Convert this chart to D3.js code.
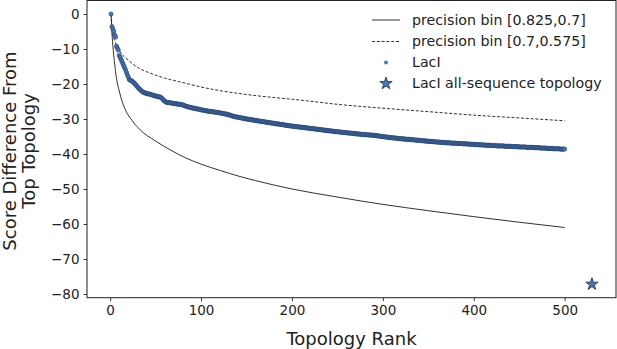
<!DOCTYPE html>
<html><head><meta charset="utf-8">
<script src="https://cdn.jsdelivr.net/npm/d3@7"></script>
<style>html,body{margin:0;padding:0;background:#fff;}svg{display:block;font-family:"DejaVu Sans",sans-serif;}</style>
</head><body>
<svg id="c" width="617" height="349"></svg>
<script>
// Solid line: precision bin [0.825,0.7]
const binHighRank = [1,2,3,4,5,7,10,13,17,24,33,50,68,83,100,121,141,160,200,250,300,350,400,450,500];
const binHighVal  = [0,-5.5,-9,-12,-14.3,-18.4,-22,-24.8,-27.5,-30.4,-33.1,-36.3,-39.1,-41.1,-42.9,-44.7,-46.3,-47.6,-50,-52.3,-54.4,-56.2,-57.9,-59.5,-61];
// Dashed line: precision bin [0.7,0.575]
const binLowRank = [1,2,3.5,5,8,11,20,30,44,60,80,99,121,150,209,250,319,355,400,450,500];
const binLowVal  = [0,-3,-6.5,-7.5,-9.5,-10.8,-13.2,-15.2,-16.9,-18.3,-19.6,-20.8,-21.9,-23,-24.6,-25.8,-27.3,-28,-28.9,-29.7,-30.5];
// LacI score differences, ranks 1..500
const laciVal = [
0,-3.6,-4.3,-5.0,-6.0,-6.6,-9.2,-9.8,-10.3,-11.8,
-12.4,-13.0,-13.6,-14.2,-14.8,-15.4,-16.0,-16.7,-17.4,-18.0,
-18.7,-18.9,-19.0,-19.2,-19.4,-19.6,-19.9,-20.2,-20.5,-20.8,
-21.1,-21.4,-21.6,-21.9,-22.1,-22.3,-22.4,-22.5,-22.6,-22.7,
-22.8,-22.8,-22.9,-22.9,-23.0,-23.1,-23.2,-23.3,-23.4,-23.4,
-23.5,-23.6,-23.6,-23.7,-23.7,-23.9,-24.1,-24.4,-24.7,-24.9,
-25.1,-25.2,-25.3,-25.3,-25.3,-25.4,-25.4,-25.5,-25.5,-25.6,
-25.6,-25.6,-25.7,-25.7,-25.8,-25.8,-25.8,-25.9,-25.9,-26.0,
-26.1,-26.2,-26.3,-26.4,-26.5,-26.5,-26.6,-26.7,-26.7,-26.8,
-26.9,-26.9,-27.0,-27.0,-27.1,-27.1,-27.2,-27.2,-27.3,-27.4,
-27.4,-27.5,-27.5,-27.6,-27.6,-27.7,-27.7,-27.8,-27.8,-27.8,
-27.9,-27.9,-27.9,-28.0,-28.0,-28.1,-28.1,-28.1,-28.2,-28.2,
-28.3,-28.3,-28.4,-28.4,-28.5,-28.5,-28.6,-28.6,-28.7,-28.8,
-28.8,-28.9,-29.0,-29.1,-29.2,-29.3,-29.3,-29.4,-29.4,-29.5,
-29.5,-29.6,-29.6,-29.7,-29.7,-29.8,-29.8,-29.9,-29.9,-30.0,
-30.0,-30.1,-30.1,-30.2,-30.2,-30.2,-30.3,-30.3,-30.4,-30.4,
-30.5,-30.5,-30.5,-30.6,-30.6,-30.7,-30.7,-30.7,-30.8,-30.8,
-30.9,-30.9,-31.0,-31.0,-31.0,-31.1,-31.1,-31.2,-31.2,-31.2,
-31.3,-31.3,-31.4,-31.4,-31.4,-31.5,-31.5,-31.6,-31.6,-31.6,
-31.7,-31.7,-31.8,-31.8,-31.8,-31.9,-31.9,-32.0,-32.0,-32.0,
-32.1,-32.1,-32.1,-32.2,-32.2,-32.2,-32.3,-32.3,-32.3,-32.3,
-32.4,-32.4,-32.4,-32.5,-32.5,-32.5,-32.6,-32.6,-32.6,-32.7,
-32.7,-32.7,-32.8,-32.8,-32.8,-32.9,-32.9,-32.9,-33.0,-33.0,
-33.0,-33.1,-33.1,-33.1,-33.2,-33.2,-33.2,-33.3,-33.3,-33.3,
-33.4,-33.4,-33.4,-33.5,-33.5,-33.5,-33.6,-33.6,-33.6,-33.6,
-33.7,-33.7,-33.7,-33.8,-33.8,-33.8,-33.9,-33.9,-33.9,-33.9,
-34.0,-34.0,-34.0,-34.0,-34.1,-34.1,-34.1,-34.2,-34.2,-34.2,
-34.2,-34.3,-34.3,-34.3,-34.3,-34.4,-34.4,-34.4,-34.4,-34.5,
-34.5,-34.5,-34.5,-34.5,-34.6,-34.6,-34.6,-34.6,-34.6,-34.7,
-34.7,-34.7,-34.8,-34.8,-34.8,-34.9,-34.9,-35.0,-35.0,-35.0,
-35.1,-35.1,-35.1,-35.2,-35.2,-35.2,-35.3,-35.3,-35.3,-35.4,
-35.4,-35.4,-35.4,-35.5,-35.5,-35.5,-35.6,-35.6,-35.6,-35.6,
-35.7,-35.7,-35.7,-35.7,-35.8,-35.8,-35.8,-35.8,-35.8,-35.9,
-35.9,-35.9,-35.9,-36.0,-36.0,-36.0,-36.0,-36.1,-36.1,-36.1,
-36.1,-36.2,-36.2,-36.2,-36.2,-36.3,-36.3,-36.3,-36.3,-36.4,
-36.4,-36.4,-36.4,-36.4,-36.5,-36.5,-36.5,-36.5,-36.6,-36.6,
-36.6,-36.6,-36.6,-36.7,-36.7,-36.7,-36.7,-36.7,-36.8,-36.8,
-36.8,-36.8,-36.8,-36.8,-36.9,-36.9,-36.9,-36.9,-36.9,-36.9,
-37.0,-37.0,-37.0,-37.0,-37.0,-37.0,-37.0,-37.1,-37.1,-37.1,
-37.1,-37.1,-37.1,-37.2,-37.2,-37.2,-37.2,-37.2,-37.2,-37.3,
-37.3,-37.3,-37.3,-37.3,-37.3,-37.4,-37.4,-37.4,-37.4,-37.4,
-37.4,-37.5,-37.5,-37.5,-37.5,-37.5,-37.5,-37.5,-37.6,-37.6,
-37.6,-37.6,-37.6,-37.6,-37.6,-37.7,-37.7,-37.7,-37.7,-37.7,
-37.7,-37.7,-37.7,-37.8,-37.8,-37.8,-37.8,-37.8,-37.8,-37.8,
-37.8,-37.9,-37.9,-37.9,-37.9,-37.9,-37.9,-37.9,-37.9,-38.0,
-38.0,-38.0,-38.0,-38.0,-38.0,-38.0,-38.0,-38.1,-38.1,-38.1,
-38.1,-38.1,-38.1,-38.1,-38.1,-38.2,-38.2,-38.2,-38.2,-38.2,
-38.2,-38.2,-38.3,-38.3,-38.3,-38.3,-38.3,-38.3,-38.3,-38.4,
-38.4,-38.4,-38.4,-38.4,-38.4,-38.4,-38.5,-38.5,-38.5,-38.5,
-38.5,-38.5,-38.5,-38.5,-38.6,-38.6,-38.6,-38.6,-38.6,-38.6
];
// LacI all-sequence topology
const starRank = [530];
const starVal = [-77.2];
const xTicks = [0,100,200,300,400,500];
const yTicks = [0,-10,-20,-30,-40,-50,-60,-70,-80];
const legendLabels = ["precision bin [0.825,0.7]","precision bin [0.7,0.575]","LacI","LacI all-sequence topology"];

const svg = d3.select("#c");
const L = 87, R = 616, T = 0.5, B = 297.7;
const x = d3.scaleLinear().domain([-25.45, 556.45]).range([L, R]);
const y = d3.scaleLinear().domain([-81.06, 3.86]).range([B, T]);

const dotFill = "#4a74b2", dotEdge = "#24416e";

// lines
const line = d3.line().x(d => x(d[0])).y(d => y(d[1])).curve(d3.curveMonotoneX);
svg.append("path").datum(binHighRank.map((r,i)=>[r,binHighVal[i]]))
  .attr("d", line).attr("fill","none").attr("stroke","#1a1a1a").attr("stroke-width",0.9);
svg.append("path").datum(binLowRank.map((r,i)=>[r,binLowVal[i]]))
  .attr("d", line).attr("fill","none").attr("stroke","#1a1a1a").attr("stroke-width",0.9)
  .attr("stroke-dasharray","3,1.8");

// LacI dots
svg.append("g").selectAll("circle").data(laciVal).join("circle")
  .attr("cx",(d,i)=>x(i+1)).attr("cy",d=>y(d)).attr("r",2.1)
  .attr("fill",dotFill).attr("stroke",dotEdge).attr("stroke-width",0.6);

// star
const star = d3.symbol().type(d3.symbolStar).size(48);
svg.append("g").selectAll("path").data(starRank).join("path")
  .attr("transform",(d,i)=>`translate(${x(d)},${y(starVal[i])})`)
  .attr("d",star()).attr("fill",dotFill).attr("stroke","#1c2f4d").attr("stroke-width",0.8);

// axes
const fmt = d => d < 0 ? "\u2212" + Math.abs(d) : String(d);
const xa = svg.append("g").attr("transform",`translate(0,${B})`)
  .call(d3.axisBottom(x).tickValues(xTicks).tickFormat(fmt).tickSize(3.5).tickPadding(4));
const ya = svg.append("g").attr("transform",`translate(${L},0)`)
  .call(d3.axisLeft(y).tickValues(yTicks).tickFormat(fmt).tickSize(3.5).tickPadding(4));
[xa,ya].forEach(a=>{
  a.select(".domain").remove();
  a.selectAll("line").attr("stroke","#222").attr("stroke-width",0.9);
  a.selectAll("text").attr("font-size",13.5).attr("fill","#222").attr("font-family","DejaVu Sans");
});
svg.append("rect").attr("x",L).attr("y",T).attr("width",R-L).attr("height",B-T)
  .attr("fill","none").attr("stroke","#222").attr("stroke-width",1);

// axis labels
svg.append("text").attr("x",(L+R)/2).attr("y",345).attr("text-anchor","middle")
  .attr("font-size",18).attr("fill","#222").text("Topology Rank");
const yl = svg.append("text").attr("transform","translate(15.5,151) rotate(-90)")
  .attr("text-anchor","middle").attr("font-size",18).attr("fill","#222");
yl.append("tspan").attr("x",0).attr("y",0).text("Score Difference From");
yl.append("tspan").attr("x",0).attr("y",19).text("Top Topology");

// legend
const lg = svg.append("g");
const rowsY = [20, 41.5, 62.5, 83.5];
lg.append("line").attr("x1",372).attr("x2",400).attr("y1",rowsY[0]).attr("y2",rowsY[0])
  .attr("stroke","#1a1a1a").attr("stroke-width",0.9);
lg.append("line").attr("x1",372).attr("x2",400).attr("y1",rowsY[1]).attr("y2",rowsY[1])
  .attr("stroke","#1a1a1a").attr("stroke-width",0.9).attr("stroke-dasharray","3,1.8");
lg.append("circle").attr("cx",386).attr("cy",rowsY[2]).attr("r",1.8).attr("fill",dotFill).attr("stroke",dotFill).attr("stroke-width",0.4);
lg.append("path").attr("transform",`translate(386,${rowsY[3]})`).attr("d",star())
  .attr("fill",dotFill).attr("stroke","#1c2f4d").attr("stroke-width",0.8);
lg.selectAll("text").data(legendLabels).join("text")
  .attr("x",412).attr("y",(d,i)=>rowsY[i]).attr("dy","0.35em")
  .attr("font-size",14.2).attr("fill","#222").text(d=>d);
</script>
</body></html>
